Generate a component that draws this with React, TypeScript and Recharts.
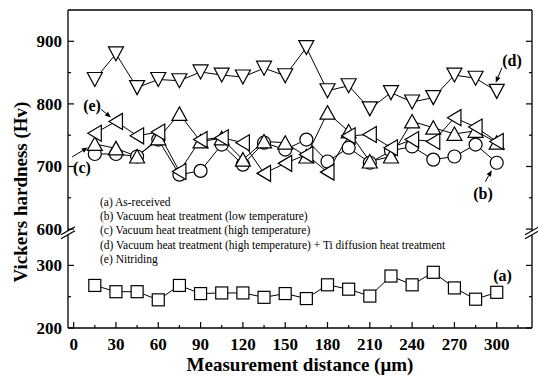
import { LineChart, Line, XAxis, YAxis, ReferenceDot } from "recharts";

const FONT = '"Liberation Serif", "Times New Roman", serif';

// measurement positions (µm)
const DIST = [15, 30, 45, 60, 75, 90, 105, 120, 135, 150, 165, 180, 195, 210, 225, 240, 255, 270, 285, 300];

// Vickers hardness (Hv)
const HV_A = [268, 258, 258, 245, 268, 255, 256, 256, 249, 255, 247, 269, 262, 251, 283, 269, 289, 264, 246, 257];
const HV_B = [720, 720, 716, 743, 687, 693, 735, 703, 738, 727, 743, 708, 730, 706, 725, 732, 711, 716, 735, 706];
const HV_C = [736, 729, 716, 745, 784, 740, 745, 711, 740, 738, 716, 786, 756, 708, 716, 772, 762, 752, 757, 738];
const HV_D = [839, 880, 826, 839, 837, 851, 846, 843, 857, 845, 890, 821, 829, 792, 818, 803, 810, 846, 841, 820];
const HV_E = [753, 772, 749, 755, 692, 743, 746, 738, 689, 705, 719, 691, 749, 751, 730, 743, 740, 778, 763, 740];

const X_MAJOR = [0, 30, 60, 90, 120, 150, 180, 210, 240, 270, 300];
const X_MINOR = [15, 45, 75, 105, 135, 165, 195, 225, 255, 285, 315];
const Y_MAJOR = [200, 300, 600, 700, 800, 900];
const Y_MINOR = [250, 650, 750, 850];

const LEGEND = [
  "(a) As-received",
  "(b) Vacuum heat treatment (low temperature)",
  "(c) Vacuum heat treatment (high temperature)",
  "(d) Vacuum heat treatment (high temperature) + Ti diffusion heat treatment",
  "(e) Nitriding",
];

// axis break: the 600-950 panel is shifted down so it sits on top of the 200-350 panel
const SHIFT = 242;
const toAxis = (v: number) => (v >= 500 ? v - SHIFT : v);
const fromAxis = (v: number) => (v >= 350 ? v + SHIFT : v);

const Y_DOMAIN = [200, toAxis(950)];
const X_DOMAIN = [-4, 325];
const BREAK_AT = 352;

const series = (vals: number[]) => vals.map((v, i) => ({ x: DIST[i], y: toAxis(v) }));

const yMajorSet = new Set(Y_MAJOR.map(toAxis));
const yTicks = [...Y_MAJOR, ...Y_MINOR].map(toAxis).sort((a, b) => a - b);
const xTicks = [...X_MAJOR, ...X_MINOR].sort((a, b) => a - b);

const S = { stroke: "#000", strokeWidth: 1.2, fill: "#fff" };

const square = (p: any) => (
  <rect key={p.key ?? p.index} x={p.cx - 6} y={p.cy - 6} width={12} height={12} {...S} />
);
const circle = (p: any) => <circle key={p.key ?? p.index} cx={p.cx} cy={p.cy} r={6.5} {...S} />;
const triUp = (p: any) => (
  <polygon
    key={p.key ?? p.index}
    points={`${p.cx},${p.cy - 7} ${p.cx + 7.5},${p.cy + 6.5} ${p.cx - 7.5},${p.cy + 6.5}`}
    {...S}
  />
);
const triDown = (p: any) => (
  <polygon
    key={p.key ?? p.index}
    points={`${p.cx - 7.5},${p.cy - 7} ${p.cx + 7.5},${p.cy - 7} ${p.cx},${p.cy + 7}`}
    {...S}
  />
);
const triLeft = (p: any) => (
  <polygon
    key={p.key ?? p.index}
    points={`${p.cx - 7},${p.cy} ${p.cx + 6.5},${p.cy - 8} ${p.cx + 6.5},${p.cy + 8}`}
    {...S}
  />
);

const tickText = { fontFamily: FONT, fontWeight: 700, fontSize: 17, fill: "#000" };

function BottomTick({ x, y, payload }: any) {
  const major = payload.value % 30 === 0;
  return (
    <g>
      <line x1={x} x2={x} y1={y} y2={y - (major ? 6 : 3)} stroke="#000" strokeWidth={1.2} />
      {major && (
        <text x={x} y={y + 22} textAnchor="middle" {...tickText} style={{ fontFamily: FONT }}>
          {payload.value}
        </text>
      )}
    </g>
  );
}

function TopTick({ x, y, payload }: any) {
  const major = payload.value % 30 === 0;
  return <line x1={x} x2={x} y1={y} y2={y + (major ? 6 : 3)} stroke="#000" strokeWidth={1.2} />;
}

function LeftTick({ x, y, payload }: any) {
  const major = yMajorSet.has(payload.value);
  return (
    <g>
      <line x1={x} x2={x + (major ? 6 : 3)} y1={y} y2={y} stroke="#000" strokeWidth={1.2} />
      {major && (
        <text x={x - 6} y={y + 6} textAnchor="end" {...tickText} style={{ fontFamily: FONT }}>
          {fromAxis(payload.value)}
        </text>
      )}
    </g>
  );
}

function RightTick({ x, y, payload }: any) {
  const major = yMajorSet.has(payload.value);
  return <line x1={x} x2={x - (major ? 6 : 3)} y1={y} y2={y} stroke="#000" strokeWidth={1.2} />;
}

const breakMark = (p: any) => (
  <g>
    <polygon
      points={`${p.cx - 7},${p.cy + 2} ${p.cx + 7},${p.cy - 6} ${p.cx + 7},${p.cy - 2} ${p.cx - 7},${p.cy + 6}`}
      fill="#fff"
    />
    <line x1={p.cx - 7} y1={p.cy + 2} x2={p.cx + 7} y2={p.cy - 6} stroke="#000" strokeWidth={1.2} />
    <line x1={p.cx - 7} y1={p.cy + 6} x2={p.cx + 7} y2={p.cy - 2} stroke="#000" strokeWidth={1.2} />
  </g>
);

// label + optional arrow, offsets relative to the data point
const tag = (text: string, dx: number, dy: number, arrow?: [number, number, number, number]) => (p: any) => {
  let head = null;
  if (arrow) {
    const [x1, y1, x2, y2] = arrow;
    const ang = Math.atan2(y2 - y1, x2 - x1);
    const ax = p.cx + x2;
    const ay = p.cy + y2;
    const l = 6;
    const w = 2.5;
    const bx = ax - l * Math.cos(ang);
    const by = ay - l * Math.sin(ang);
    head = (
      <g>
        <line x1={p.cx + x1} y1={p.cy + y1} x2={bx} y2={by} stroke="#000" strokeWidth={1} />
        <polygon
          points={`${ax},${ay} ${bx - w * Math.sin(ang)},${by + w * Math.cos(ang)} ${bx + w * Math.sin(ang)},${by - w * Math.cos(ang)}`}
          fill="#000"
        />
      </g>
    );
  }
  return (
    <g>
      <text x={p.cx + dx} y={p.cy + dy} fontFamily={FONT} fontWeight={700} fontSize={16} fill="#000">
        {text}
      </text>
      {head}
    </g>
  );
};

const ids = { xAxisId: "bottom", yAxisId: "left" };

export default function App() {
  return (
    <div style={{ position: "absolute", left: 0, top: 0, width: 538, height: 381 }}>
      <LineChart width={538} height={381} margin={{ top: 9, right: 5, bottom: 0, left: 0 }}>
        <XAxis
          xAxisId="bottom"
          type="number"
          dataKey="x"
          domain={X_DOMAIN}
          allowDataOverflow
          ticks={xTicks}
          interval={0}
          tickSize={0}
          tickMargin={0}
          tick={<BottomTick />}
          tickLine={false}
          height={53}
          axisLine={{ stroke: "#000", strokeWidth: 1.3 }}
        />
        <XAxis
          xAxisId="top"
          orientation="top"
          type="number"
          domain={X_DOMAIN}
          allowDataOverflow
          ticks={xTicks}
          interval={0}
          tickSize={0}
          tickMargin={0}
          tick={<TopTick />}
          tickLine={false}
          height={1}
          axisLine={{ stroke: "#000", strokeWidth: 1.3 }}
        />
        <YAxis
          yAxisId="left"
          type="number"
          domain={Y_DOMAIN}
          allowDataOverflow
          ticks={yTicks}
          interval={0}
          tickSize={0}
          tickMargin={0}
          tick={<LeftTick />}
          tickLine={false}
          width={68}
          axisLine={{ stroke: "#000", strokeWidth: 1.3 }}
        />
        <YAxis
          yAxisId="right"
          orientation="right"
          type="number"
          domain={Y_DOMAIN}
          allowDataOverflow
          ticks={yTicks}
          interval={0}
          tickSize={0}
          tickMargin={0}
          tick={<RightTick />}
          tickLine={false}
          width={1}
          axisLine={{ stroke: "#000", strokeWidth: 1.3 }}
        />

        <Line {...ids} data={series(HV_A)} dataKey="y" type="linear" stroke="#000" strokeWidth={1} dot={square} activeDot={false} isAnimationActive={false} />
        <Line {...ids} data={series(HV_B)} dataKey="y" type="linear" stroke="#000" strokeWidth={1} dot={circle} activeDot={false} isAnimationActive={false} />
        <Line {...ids} data={series(HV_C)} dataKey="y" type="linear" stroke="#000" strokeWidth={1} dot={triUp} activeDot={false} isAnimationActive={false} />
        <Line {...ids} data={series(HV_E)} dataKey="y" type="linear" stroke="#000" strokeWidth={1} dot={triLeft} activeDot={false} isAnimationActive={false} />
        <Line {...ids} data={series(HV_D)} dataKey="y" type="linear" stroke="#000" strokeWidth={1} dot={triDown} activeDot={false} isAnimationActive={false} />

        <ReferenceDot {...ids} x={X_DOMAIN[0]} y={BREAK_AT} ifOverflow="visible" shape={breakMark} />
        <ReferenceDot {...ids} x={X_DOMAIN[1]} y={BREAK_AT} ifOverflow="visible" shape={breakMark} />

        <ReferenceDot {...ids} x={300} y={toAxis(HV_A[19])} ifOverflow="visible" shape={tag("(a)", -3.5, -11)} />
        <ReferenceDot {...ids} x={300} y={toAxis(HV_B[19])} ifOverflow="visible" shape={tag("(b)", -23.5, 36, [-11.5, 19, -5, 7.5])} />
        <ReferenceDot {...ids} x={15} y={toAxis(HV_C[0])} ifOverflow="visible" shape={tag("(c)", -21.7, 29, [-22.7, 13, -7, 3.5])} />
        <ReferenceDot {...ids} x={300} y={toAxis(HV_D[19])} ifOverflow="visible" shape={tag("(d)", 5.5, -25.7, [5.2, -23.7, -1, -8.7])} />
        <ReferenceDot {...ids} x={30} y={toAxis(HV_E[1])} ifOverflow="visible" shape={tag("(e)", -32.8, -10, [-14.8, -12, -5, -4])} />
      </LineChart>

      <svg
        width={538}
        height={381}
        style={{ position: "absolute", left: 0, top: 0, pointerEvents: "none" }}
      >
        {LEGEND.map((t, i) => (
          <text key={t} x={100} y={206 + i * 14.2} fontFamily={FONT} fontSize={11.5} fill="#000">
            {t}
          </text>
        ))}
        <text
          x={300}
          y={371}
          textAnchor="middle"
          fontFamily={FONT}
          fontWeight={700}
          fontSize={19}
          fill="#000"
        >
          Measurement distance (μm)
        </text>
        <text
          transform="translate(27,192) rotate(-90)"
          textAnchor="middle"
          fontFamily={FONT}
          fontWeight={700}
          fontSize={19}
          fill="#000"
        >
          Vickers hardness (Hv)
        </text>
      </svg>
    </div>
  );
}
